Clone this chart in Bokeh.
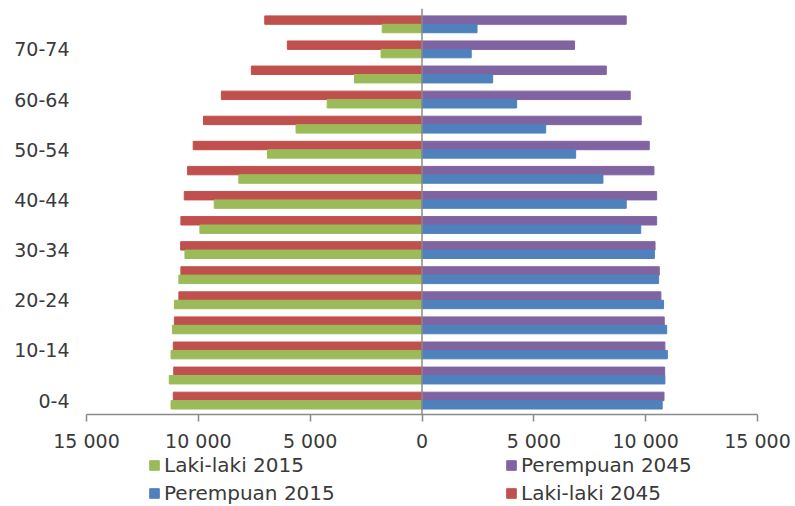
import numpy as np
from bokeh.plotting import figure
from bokeh.layouts import column
from bokeh.models import (ColumnDataSource, FixedTicker, Span, Legend, LegendItem, Range1d)
from bokeh.embed import file_html
from bokeh.resources import INLINE

age_groups = ["0-4", "5-9", "10-14", "15-19", "20-24", "25-29", "30-34", "35-39",
              "40-44", "45-49", "50-54", "55-59", "60-64", "65-69", "70-74", "75+"]
laki_2015 = [11220, 11300, 11220, 11160, 11070, 10870, 10600, 9930,
             9290, 8190, 6910, 5630, 4240, 3020, 1830, 1780]
laki_2045 = [11120, 11100, 11120, 11070, 10870, 10780, 10790, 10780,
             10630, 10480, 10230, 9770, 8970, 7630, 6020, 7030]
perempuan_2015 = [10740, 10860, 10970, 10940, 10800, 10580, 10390, 9780,
                  9130, 8090, 6870, 5530, 4230, 3160, 2200, 2460]
perempuan_2045 = [10820, 10850, 10860, 10830, 10680, 10610, 10420, 10490,
                  10490, 10370, 10160, 9800, 9310, 8240, 6820, 9130]
x_ticks = [-15000, -10000, -5000, 0, 5000, 10000, 15000]
x_tick_labels = ["15 000", "10 000", "5 000", "0", "5 000", "10 000", "15 000"]
shown_groups = ["0-4", "10-14", "20-24", "30-34", "40-44", "50-54", "60-64", "70-74"]

GREEN = "#9BBB59"
RED = "#C0504D"
BLUE = "#4F81BD"
PURPLE = "#8064A2"
TEXT = "#3a3a3a"

idx = np.arange(len(age_groups))
off = 0.168
h = 0.336

src = ColumnDataSource(dict(
    y_top=idx + off,
    y_bot=idx - off,
    l2015=-np.array(laki_2015),
    l2045=-np.array(laki_2045),
    p2015=np.array(perempuan_2015),
    p2045=np.array(perempuan_2045),
    zero=np.zeros(len(age_groups)),
))

p = figure(width=795, height=454, output_backend="svg", toolbar_location=None,
           x_range=Range1d(-15000, 15000), y_range=Range1d(-0.554, 15.63),
           min_border_left=86, min_border_right=38, min_border_top=8,
           min_border_bottom=37)
p.outline_line_color = None
p.background_fill_color = "white"
p.border_fill_color = "white"
p.xgrid.visible = False
p.ygrid.visible = False

def bars(fig):
    r1 = fig.hbar(y="y_top", left="l2045", right="zero", height=h, color=RED, source=src)
    r2 = fig.hbar(y="y_bot", left="l2015", right="zero", height=h, color=GREEN, source=src)
    r3 = fig.hbar(y="y_top", left="zero", right="p2045", height=h, color=PURPLE, source=src)
    r4 = fig.hbar(y="y_bot", left="zero", right="p2015", height=h, color=BLUE, source=src)
    return r1, r2, r3, r4

bars(p)
p.add_layout(Span(location=0, dimension="height", line_color="#8a8a8a", line_width=1.5))

# x axis
p.xaxis.ticker = FixedTicker(ticks=x_ticks)
p.xaxis.major_label_overrides = {t: l for t, l in zip(x_ticks, x_tick_labels)}
p.xaxis.axis_line_color = "#8a8a8a"
p.xaxis.axis_line_width = 1.5
p.xaxis.major_tick_line_color = "#8a8a8a"
p.xaxis.major_tick_line_width = 1.5
p.xaxis.major_tick_out = 7
p.xaxis.major_tick_in = 0
p.xaxis.minor_tick_line_color = None
p.xaxis.major_label_text_font = "DejaVu Sans"
p.xaxis.major_label_text_font_size = "19px"
p.xaxis.major_label_text_color = TEXT
p.xaxis.major_label_standoff = 8

# y axis
y_ticks = [age_groups.index(g) for g in shown_groups]
p.yaxis.ticker = FixedTicker(ticks=y_ticks)
p.yaxis.major_label_overrides = {t: g for t, g in zip(y_ticks, shown_groups)}
p.yaxis.axis_line_color = None
p.yaxis.major_tick_line_color = None
p.yaxis.minor_tick_line_color = None
p.yaxis.major_label_text_font = "DejaVu Sans"
p.yaxis.major_label_text_font_size = "19px"
p.yaxis.major_label_text_color = TEXT
p.yaxis.major_label_standoff = 11

# legend strip below the chart (its frame is aligned with the chart's frame)
lf = figure(width=795, height=52, output_backend="svg", toolbar_location=None,
            x_range=Range1d(-15000, 15000), y_range=Range1d(100, 101),
            min_border_left=86, min_border_right=38, min_border_top=0, min_border_bottom=0)
lf.outline_line_color = None
lf.axis.visible = False
lf.grid.visible = False
g_l2045, g_l2015, g_p2045, g_p2015 = bars(lf)

def make_legend(items, loc):
    return Legend(items=items, location=loc, orientation="vertical",
                  glyph_width=12, glyph_height=12, label_standoff=4,
                  label_text_font="DejaVu Sans", label_text_font_size="20px",
                  label_text_color=TEXT, label_height=20, spacing=4,
                  padding=0, margin=0, border_line_color=None,
                  background_fill_alpha=0)

lf.add_layout(make_legend([LegendItem(label="Laki-laki 2015", renderers=[g_l2015]),
                           LegendItem(label="Perempuan 2015", renderers=[g_p2015])], (62, 1)))
lf.add_layout(make_legend([LegendItem(label="Perempuan 2045", renderers=[g_p2045]),
                           LegendItem(label="Laki-laki 2045", renderers=[g_l2045])], (419, 1)))

layout = column(p, lf, spacing=0)
open("out.html", "w").write(file_html(layout, INLINE))
